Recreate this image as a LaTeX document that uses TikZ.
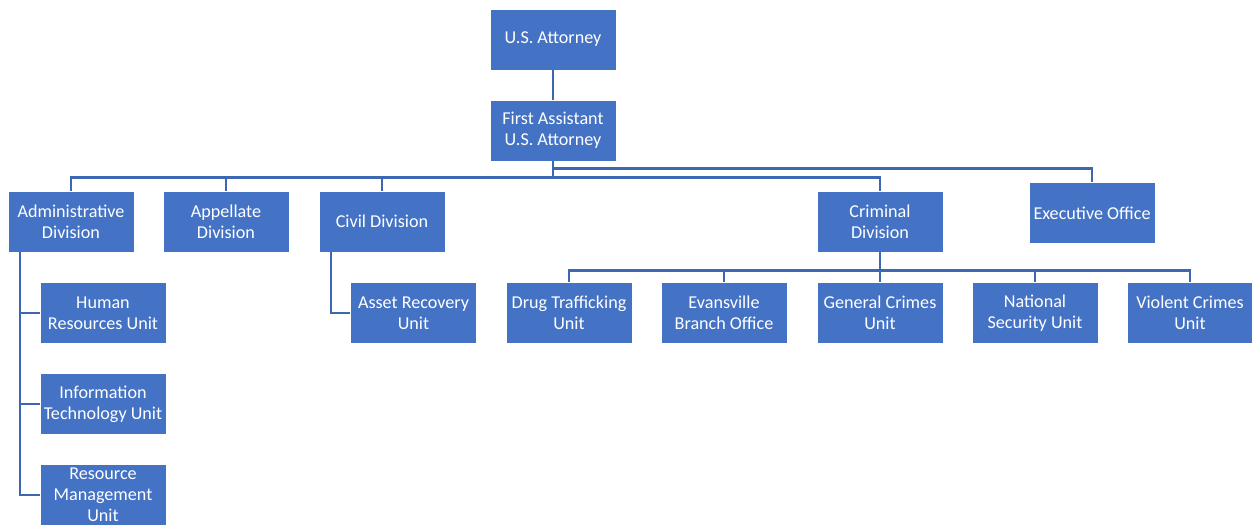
\documentclass[tikz,border=0pt]{standalone}
\usepackage{fontspec}
\setmainfont{Carlito}
\usepackage{xcolor}
\usepackage{tikz}
\usetikzlibrary{positioning,calc}

\definecolor{boxblue}{HTML}{4472C4}
\definecolor{lineblue}{HTML}{3E67B3}

\tikzset{
  unit/.style={draw=white, line width=0.6pt, fill=boxblue, text=white, align=center,
    minimum width=94.5pt, minimum height=45.75pt, inner sep=0pt,
    font=\fontsize{13.6}{15.75}\selectfont},
  link/.style={draw=lineblue, line width=2.1pt}
}

\begin{document}
\begin{tikzpicture}[x=0.75pt, y=-0.75pt]
\useasboundingbox (0,0) rectangle (1252,525);

% Top of the office
\node[unit] (usa) at (553, 39.5) {U.S. Attorney};
\node[unit] (first) at (553, 130.5) {First Assistant\\U.S. Attorney};

% Divisions
\node[unit] (admin) at (71, 221.5) {Administrative\\Division};
\node[unit] (appel) at (226, 221.5) {Appellate\\Division};
\node[unit] (civil) at (382, 221.5) {Civil Division};
\node[unit] (crim) at (880, 221.5) {Criminal\\Division};
\node[unit] (exec) at (1092, 213) {Executive Office};

% Administrative units
\node[unit] (hr) at (103, 313) {Human\\Resources Unit};
\node[unit] (it) at (103, 404) {Information\\Technology Unit};
\node[unit] (rm) at (103, 495) {Resource\\Management\\Unit};

% Civil unit
\node[unit] (asset) at (413.5, 313) {Asset Recovery\\Unit};

% Criminal units
\node[unit] (drug) at (569, 313) {Drug Trafficking\\Unit};
\node[unit] (evans) at (724, 313) {Evansville\\Branch Office};
\node[unit] (gen) at (880, 313) {General Crimes\\Unit};
\node[unit] (natsec) at (1035, 313) {National\\Security Unit};
\node[unit] (violent) at (1190, 313) {Violent Crimes\\Unit};

% Connectors
\draw[link] (usa.south) -- (first.north);
\foreach \d in {admin, appel, civil, crim}
  \draw[link] (first.south) -- ++(0,16) -| (\d.north);
\draw[link] (first.south) -- ++(0,7) -| (exec.north);

\foreach \u in {drug, evans, gen, natsec, violent}
  \draw[link] (crim.south) -- ++(0,18) -| (\u.north);

\foreach \u in {hr, it, rm}
  \draw[link] ([xshift=-38.25pt] admin.south) |- (\u.west);
\draw[link] ([xshift=-38.25pt] civil.south) |- (asset.west);
\end{tikzpicture}
\end{document}
